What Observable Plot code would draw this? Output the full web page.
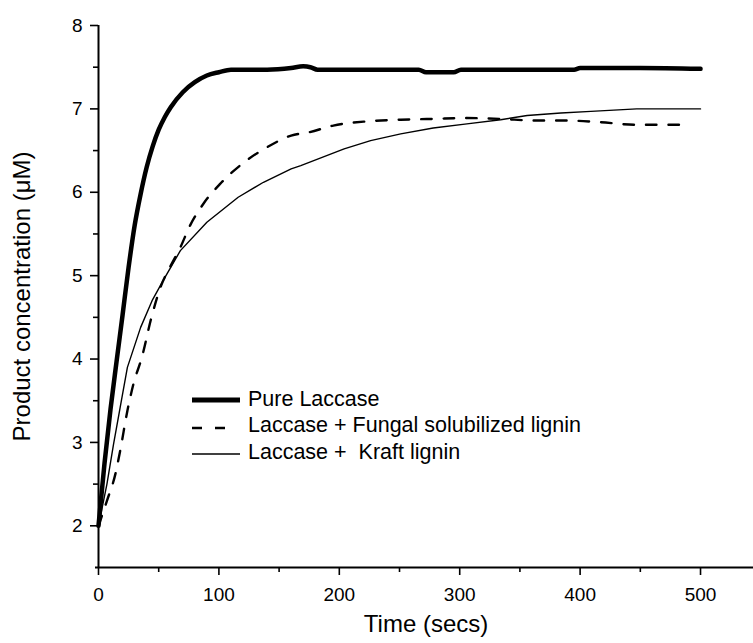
<!DOCTYPE html>
<html>
<head>
<meta charset="utf-8">
<script src="https://cdn.jsdelivr.net/npm/d3@7"></script>
<script src="https://cdn.jsdelivr.net/npm/@observablehq/plot@0.6"></script>
<style>
  html, body { margin: 0; padding: 0; background: #fff; }
  #wrap { position: relative; width: 753px; height: 643px; font-family: "Liberation Sans", Arial, sans-serif; }
  .lg-line { position: absolute; left: 192px; }
  .lg-text { position: absolute; left: 248px; font-size: 21.5px; line-height: 21.5px; white-space: pre; color: #000; }
</style>
</head>
<body>
<div id="wrap"></div>
<script>
// ---- data ----
const pureT = [0,5,10,15,20,25,30,35,40,45,50,55,60,70,80,90,100,110,120,140,160,170,176,182,200,230,266,272,295,301,350,395,400,450,500];
const pureV = [2.0,2.75,3.4,3.97,4.53,5.1,5.6,5.98,6.3,6.55,6.75,6.9,7.02,7.2,7.32,7.4,7.44,7.47,7.47,7.47,7.49,7.51,7.5,7.47,7.47,7.47,7.47,7.44,7.44,7.47,7.47,7.47,7.49,7.49,7.48];

const fungalT = [0,7,14,18,24,29,36,44,52,60,68,76,87,101,121,140,160,175,195,223,251,278,306,334,362,389,417,445,490];
const fungalV = [2.0,2.3,2.62,2.9,3.38,3.7,4.02,4.5,4.88,5.12,5.34,5.6,5.86,6.1,6.36,6.54,6.68,6.72,6.8,6.85,6.87,6.88,6.89,6.88,6.86,6.86,6.84,6.81,6.81];

const kraftT = [0,7,12.5,18,24,35,44.5,54,68,90,116,137,160,168,204,226,251,278,306,334,356,384,409,447,500];
const kraftV = [2.0,2.5,2.98,3.42,3.9,4.38,4.7,4.95,5.3,5.64,5.94,6.12,6.28,6.32,6.52,6.62,6.7,6.77,6.82,6.87,6.92,6.95,6.97,7.0,7.0];

const seriesNames = ["Pure Laccase", "Laccase + Fungal solubilized lignin", "Laccase +  Kraft lignin"];
const xMajorTicks = [0,100,200,300,400,500];
const xMinorTicks = [50,150,250,350,450];
const yMajorTicks = [2,3,4,5,6,7,8];
const yMinorTicks = [2.5,3.5,4.5,5.5,6.5,7.5];
const xDomain = [0, 544];
const yDomain = [1.5, 8];
const xTitle = "Time (secs)";
const yTitle = "Product concentration (\u03BCM)";

const toRows = (ts, vs) => ts.map((t, i) => ({t, v: vs[i]}));
const pure = toRows(pureT, pureV);
const fungal = toRows(fungalT, fungalV);
const kraft = toRows(kraftT, kraftV);

const chart = Plot.plot({
  width: 753,
  height: 643,
  marginLeft: 98,
  marginRight: 0,
  marginTop: 25,
  marginBottom: 76,
  style: { fontFamily: "'Liberation Sans', Arial, sans-serif", fontSize: "19px", color: "#000", background: "#fff" },
  x: { domain: xDomain, axis: null },
  y: { domain: yDomain, axis: null },
  marks: [
    Plot.axisX({ ticks: xMajorTicks, tickSize: 8, tickPadding: 12, strokeWidth: 1.6, fontSize: 19, label: null, tickFormat: d => String(d) }),
    Plot.axisX({ ticks: xMinorTicks, tickSize: 5, strokeWidth: 1.6, label: null, tickFormat: () => "" }),
    Plot.axisY({ ticks: yMajorTicks, tickSize: 8, tickPadding: 8, strokeWidth: 1.6, fontSize: 19, label: null, tickFormat: d => String(d) }),
    Plot.axisY({ ticks: yMinorTicks, tickSize: 5, strokeWidth: 1.6, label: null, tickFormat: () => "" }),
    Plot.ruleY([yDomain[0]], { stroke: "#000", strokeWidth: 2, insetLeft: -3 }),
    Plot.ruleX([xDomain[0]], { stroke: "#000", strokeWidth: 2 }),
    Plot.line(kraft, { x: "t", y: "v", stroke: "#000", strokeWidth: 1.4 }),
    Plot.line(fungal, { x: "t", y: "v", stroke: "#000", strokeWidth: 2.4, strokeDasharray: "10.5,12", curve: "monotone-x" }),
    Plot.line(pure, { x: "t", y: "v", stroke: "#000", strokeWidth: 4.5, curve: "monotone-x" }),
    Plot.text([xTitle], { frameAnchor: "bottom", dy: 64, fontSize: 24, fill: "#000", textAnchor: "middle" }),
    Plot.text([yTitle], { frameAnchor: "left", dx: -76, rotate: -90, fontSize: 24, fill: "#000", textAnchor: "middle" })
  ]
});

const wrap = document.getElementById("wrap");
wrap.appendChild(chart);

// legend overlay
const legendStyles = [
  { w: 4.8, dash: null, len: 48, lineY: 400, base: 407 },
  { w: 2.4, dash: "10,13", len: 34, lineY: 428, base: 433.5 },
  { w: 1.5, dash: null, len: 48, lineY: 453.5, base: 460 }
];
seriesNames.forEach((name, i) => {
  const st = legendStyles[i];
  const svg = document.createElement("div");
  svg.className = "lg-line";
  svg.style.top = (st.lineY - 7) + "px";
  svg.innerHTML = `<svg width="${st.len}" height="14" style="display:block"><line x1="0" x2="${st.len}" y1="7" y2="7" stroke="#000" stroke-width="${st.w}" ${st.dash ? `stroke-dasharray="${st.dash}"` : ""}/></svg>`;
  wrap.appendChild(svg);
  const txt = document.createElement("div");
  txt.className = "lg-text";
  txt.style.top = (st.base - 18.2) + "px";
  txt.textContent = name;
  wrap.appendChild(txt);
});
</script>
</body>
</html>
